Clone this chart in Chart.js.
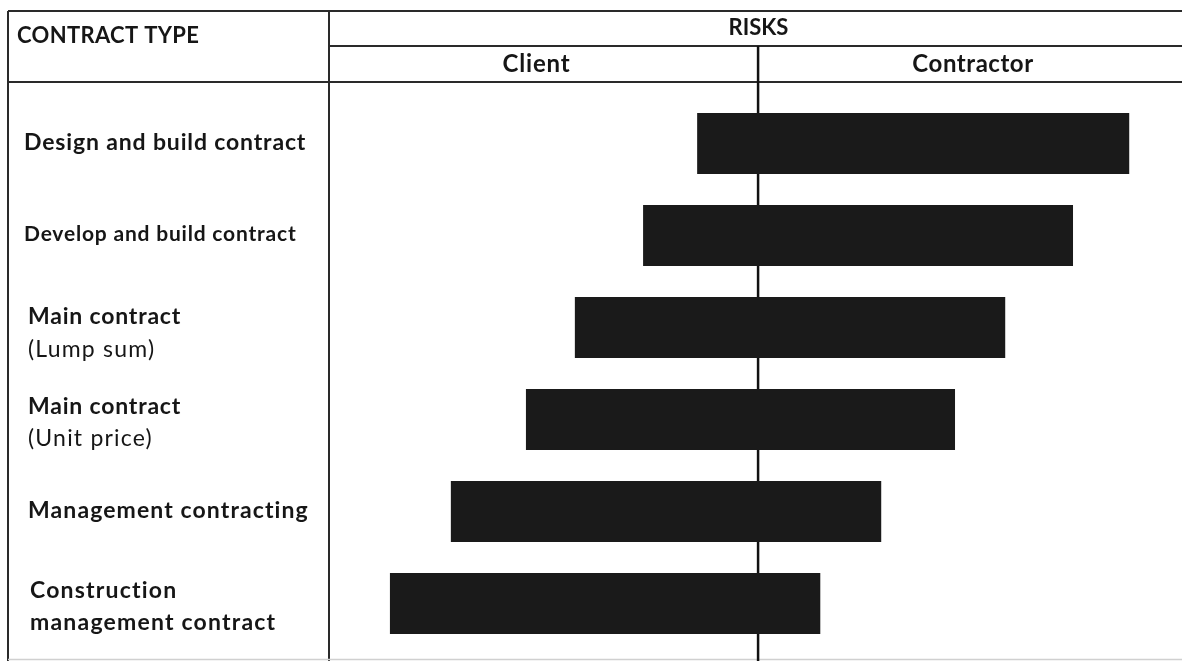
<!DOCTYPE html>
<html><head><meta charset="utf-8">
<script src="https://cdn.jsdelivr.net/npm/chart.js@4/dist/chart.umd.min.js"></script>
<style>html,body{margin:0;padding:0;background:#fff;}#wrap{width:1182px;height:661px;position:relative;}</style>
</head><body><div id="wrap"><canvas id="c" width="1182" height="661"></canvas></div>
<script>
// ---- data ----
const categoryLines = [
  ["Design and build contract"],
  ["Develop and build contract"],
  ["Main contract"],
  ["Main contract"],
  ["Management contracting"],
  ["Construction", "management contract"]
];
const categoryNotes = ["", "", "(Lump sum)", "(Unit price)", "", ""];
const clientRisk = [-14.2, -26.8, -42.7, -54.1, -71.6, -85.8];
const contractorRisk = [86.5, 73.4, 57.6, 45.9, 28.7, 14.5];
const headerTitle = "CONTRACT TYPE";
const riskTitle = "RISKS";
const sideLabels = ["Client", "Contractor"];
const xMin = -100, xMax = 98.8;

// ---- styling / layout ----
const FONT = "Lato, 'Open Sans', sans-serif";
const labelSizes = [23, 21, 23, 23, 23, 23];
const labelSpacing = [0.85, 0.8, 0.8, 0.8, 1.1, 1.2];
const labelX = [24, 24, 28, 28, 28, 30];

function setSpacing(ctx, px) {
  if ('letterSpacing' in ctx) ctx.letterSpacing = px + 'px';
}

const tablePlugin = {
  id: 'table',
  beforeDatasetsDraw(chart) {
    const ctx = chart.ctx;
    const W = chart.width, H = chart.height;
    const colX = chart.chartArea.left;
    const midX = chart.scales.x.getPixelForValue(0);
    ctx.save();
    ctx.strokeStyle = '#2a2a2a';
    ctx.lineWidth = 2;
    ctx.beginPath();
    ctx.moveTo(8, 11); ctx.lineTo(W, 11);
    ctx.moveTo(8, 11); ctx.lineTo(8, H);
    ctx.moveTo(colX, 11); ctx.lineTo(colX, H);
    ctx.moveTo(colX, 46); ctx.lineTo(W, 46);
    ctx.moveTo(8, 82); ctx.lineTo(W, 82);
    ctx.stroke();
    ctx.strokeStyle = '#d0d0d0';
    ctx.lineWidth = 1.5;
    ctx.beginPath(); ctx.moveTo(8, 659.5); ctx.lineTo(W, 659.5); ctx.stroke();
    ctx.strokeStyle = '#111';
    ctx.lineWidth = 2.5;
    ctx.beginPath(); ctx.moveTo(midX, 46); ctx.lineTo(midX, H); ctx.stroke();
    ctx.restore();
  },
  afterDraw(chart) {
    const ctx = chart.ctx;
    const W = chart.width;
    const colX = chart.chartArea.left;
    const midX = chart.scales.x.getPixelForValue(0);
    const yScale = chart.scales.y;
    ctx.save();
    ctx.fillStyle = '#161616';
    ctx.textBaseline = 'middle';
    // headers
    ctx.font = "bold 22px " + FONT;
    ctx.textAlign = 'left';
    setSpacing(ctx, 0.33);
    ctx.fillText(headerTitle, 17, 36);
    ctx.textAlign = 'center';
    setSpacing(ctx, 0);
    ctx.fillText(riskTitle, (colX + W) / 2 + 3, 28);
    ctx.font = "bold 24px " + FONT;
    setSpacing(ctx, 0.8);
    ctx.fillText(sideLabels[0], (colX + midX) / 2 - 7, 64);
    setSpacing(ctx, 0.55);
    ctx.fillText(sideLabels[1], (midX + W) / 2 + 3, 64);
    // row labels
    ctx.textAlign = 'left';
    categoryLines.forEach((lines, i) => {
      const cy = yScale.getPixelForValue(i);
      const note = categoryNotes[i];
      const n = lines.length + (note ? 1 : 0);
      const x = labelX[i];
      setSpacing(ctx, labelSpacing[i]);
      if (n === 1) {
        ctx.font = "bold " + labelSizes[i] + "px " + FONT;
        ctx.fillText(lines[0], x, cy - 1);
      } else {
        const ys = i === 2 ? [cy - 11, cy + 22] : [cy - 13, cy + 19];
        lines.forEach((t, k) => {
          ctx.font = "bold " + labelSizes[i] + "px " + FONT;
          ctx.fillText(t, x, ys[k]);
        });
        if (note) {
          ctx.font = labelSizes[i] + "px " + FONT;
          setSpacing(ctx, 1.2);
          ctx.fillText(note, x, ys[lines.length]);
        }
      }
    });
    ctx.restore();
  }
};

new Chart(document.getElementById('c'), {
  type: 'bar',
  data: {
    labels: categoryLines.map((l, i) => l.join(' ') + (categoryNotes[i] ? ' ' + categoryNotes[i] : '')),
    datasets: [{
      label: 'Risk allocation',
      data: clientRisk.map((s, i) => [s, contractorRisk[i]]),
      backgroundColor: '#1a1a1a',
      borderWidth: 0,
      borderSkipped: false,
      categoryPercentage: 1,
      barPercentage: 0.663
    }]
  },
  options: {
    indexAxis: 'y',
    responsive: false,
    animation: false,
    layout: { padding: { left: 329, right: 0, top: 97.5, bottom: 11.5 } },
    plugins: { legend: { display: false }, tooltip: { enabled: false } },
    scales: {
      x: { type: 'linear', min: xMin, max: xMax, display: false },
      y: { type: 'category', display: false, offset: true }
    }
  },
  plugins: [tablePlugin]
});
</script>
</body></html>
